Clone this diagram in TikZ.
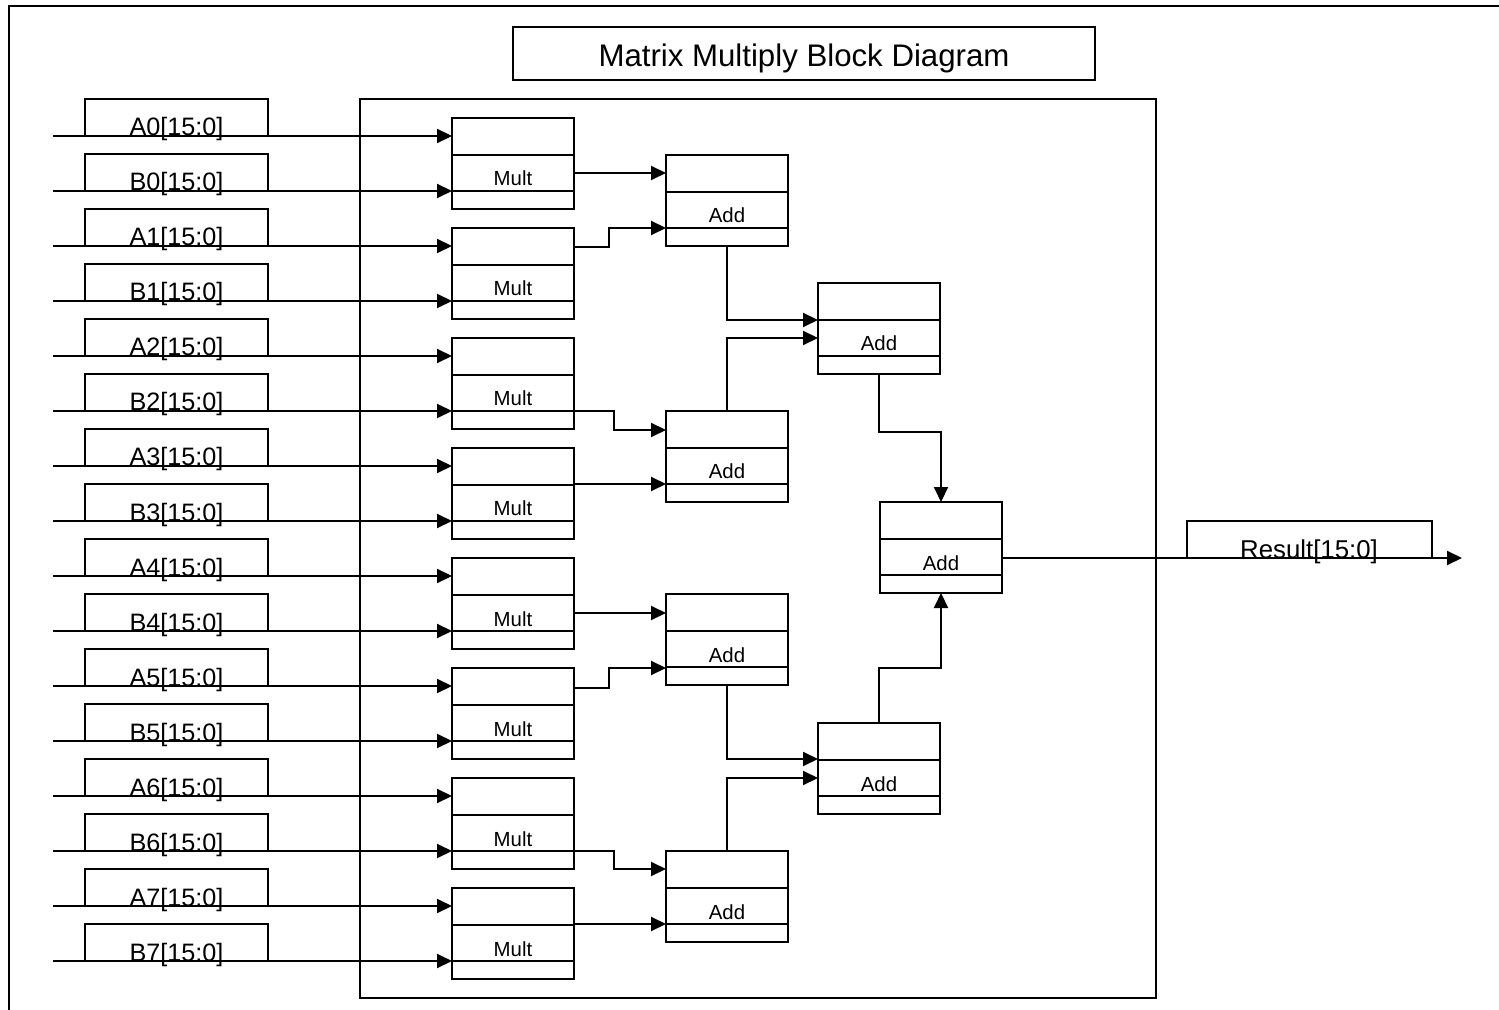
\documentclass[tikz,border=0pt]{standalone}
\usepackage{fontspec}
\setmainfont{Liberation Sans}
\usetikzlibrary{arrows.meta,calc}
\tikzset{
  base line/.style={line width=1pt, draw=black},
  arr/.style={base line, -{Triangle[length=7.5pt,width=7pt]}},
  blk/.style={base line, rectangle, minimum width=61pt, minimum height=45.5pt, inner sep=0pt, outer sep=0pt},
  inbox/.style={base line, rectangle, minimum width=91.5pt, minimum height=18.5pt, inner sep=0pt, outer sep=0pt},
  resbox/.style={base line, rectangle, minimum width=122.5pt, minimum height=18.5pt, inner sep=0pt, outer sep=0pt},
  blklab/.style={inner sep=0pt, anchor=base, font=\fontsize{10.2}{12}\selectfont},
  inlab/.style={inner sep=0pt, anchor=base, font=\fontsize{12.6}{15}\selectfont},
}
\newcommand\mkblk[4]{%
  \node[blk] (#1) at ({#2+61},{#3+45.5}) {};
  \draw[base line] ($(#1.north west)+(0,37)$) -- ($(#1.north east)+(0,37)$);
  \draw[base line] ($(#1.north west)+(0,73)$) -- ($(#1.north east)+(0,73)$);
  \node[blklab] (#1t) at ($(#1.north)+(0,68)$) {#4};
}
\newcommand\mkin[3]{% name, label, line y
  \node[inbox] (#1box) at (176.5,{#3-18.5}) {};
  \node[inlab] (#1lab) at (176.5,#3) {#2};
  \coordinate (#1s) at (53,#3);
}
\begin{document}
\begin{tikzpicture}[x=0.5pt,y=-0.5pt]
\useasboundingbox (0,0) rectangle (1499,1010);
% outer frame
\draw[base line] (9,1010) -- (9,6) -- (1499,6);
% title
\node[base line, rectangle, minimum width=291pt, minimum height=26.5pt, inner sep=0pt] (titlebox) at (804,53.5) {};
\node[inner sep=0pt, anchor=base, font=\fontsize{15.6}{18}\selectfont] (title) at (804,67) {Matrix Multiply Block Diagram};
% core box
\node[base line, rectangle, minimum width=398pt, minimum height=449.5pt, inner sep=0pt] (core) at (758,548.5) {};
% inputs
\mkin{A0}{A0[15:0]}{136}
\mkin{B0}{B0[15:0]}{191}
\mkin{A1}{A1[15:0]}{246}
\mkin{B1}{B1[15:0]}{301}
\mkin{A2}{A2[15:0]}{356}
\mkin{B2}{B2[15:0]}{411}
\mkin{A3}{A3[15:0]}{466}
\mkin{B3}{B3[15:0]}{521}
\mkin{A4}{A4[15:0]}{576}
\mkin{B4}{B4[15:0]}{631}
\mkin{A5}{A5[15:0]}{686}
\mkin{B5}{B5[15:0]}{741}
\mkin{A6}{A6[15:0]}{796}
\mkin{B6}{B6[15:0]}{851}
\mkin{A7}{A7[15:0]}{906}
\mkin{B7}{B7[15:0]}{961}
% mult blocks
\mkblk{m0}{452}{118}{Mult}
\mkblk{m1}{452}{228}{Mult}
\mkblk{m2}{452}{338}{Mult}
\mkblk{m3}{452}{448}{Mult}
\mkblk{m4}{452}{558}{Mult}
\mkblk{m5}{452}{668}{Mult}
\mkblk{m6}{452}{778}{Mult}
\mkblk{m7}{452}{888}{Mult}
% adders
\mkblk{a0}{666}{155}{Add}
\mkblk{a1}{666}{411}{Add}
\mkblk{a2}{666}{594}{Add}
\mkblk{a3}{666}{851}{Add}
\mkblk{b0}{818}{283}{Add}
\mkblk{b1}{818}{723}{Add}
\mkblk{f}{880}{502}{Add}
% input wires
\foreach \i in {0,...,7} {
  \draw[arr] (A\i s) -- (A\i s -| m\i.west);
  \draw[arr] (B\i s) -- (B\i s -| m\i.west);
}
% mult -> add
\draw[arr] ($(m0.north east)+(0,55)$) -- ($(a0.north west)+(0,18)$);
\draw[arr] ($(m1.north east)+(0,19)$) -- ++(35,0) |- ($(a0.north west)+(0,73)$);
\draw[arr] ($(m2.north east)+(0,73)$) -- ++(40,0) |- ($(a1.north west)+(0,19)$);
\draw[arr] ($(m3.north east)+(0,36)$) -- ($(a1.north west)+(0,73)$);
\draw[arr] ($(m4.north east)+(0,55)$) -- ($(a2.north west)+(0,19)$);
\draw[arr] ($(m5.north east)+(0,20)$) -- ++(35,0) |- ($(a2.north west)+(0,74)$);
\draw[arr] ($(m6.north east)+(0,73)$) -- ++(40,0) |- ($(a3.north west)+(0,18)$);
\draw[arr] ($(m7.north east)+(0,36)$) -- ($(a3.north west)+(0,73)$);
% add -> add
\draw[arr] (a0.south) |- ($(b0.north west)+(0,37)$);
\draw[arr] (a1.north) |- ($(b0.north west)+(0,55)$);
\draw[arr] (a2.south) |- ($(b1.north west)+(0,36)$);
\draw[arr] (a3.north) |- ($(b1.north west)+(0,55)$);
\draw[arr] (b0.south) -- ++(0,58) -| (f.north);
\draw[arr] (b1.north) -- ++(0,-55) -| (f.south);
% output
\node[resbox] (resbox) at (1309.5,539.5) {};
\node[inlab, font=\fontsize{12.9}{15}\selectfont] (reslab) at (1309,558) {Result[15:0]};
\coordinate (rend) at (1462,558);
\draw[arr] ($(f.north east)+(0,56)$) -- (rend);
\end{tikzpicture}
\end{document}
